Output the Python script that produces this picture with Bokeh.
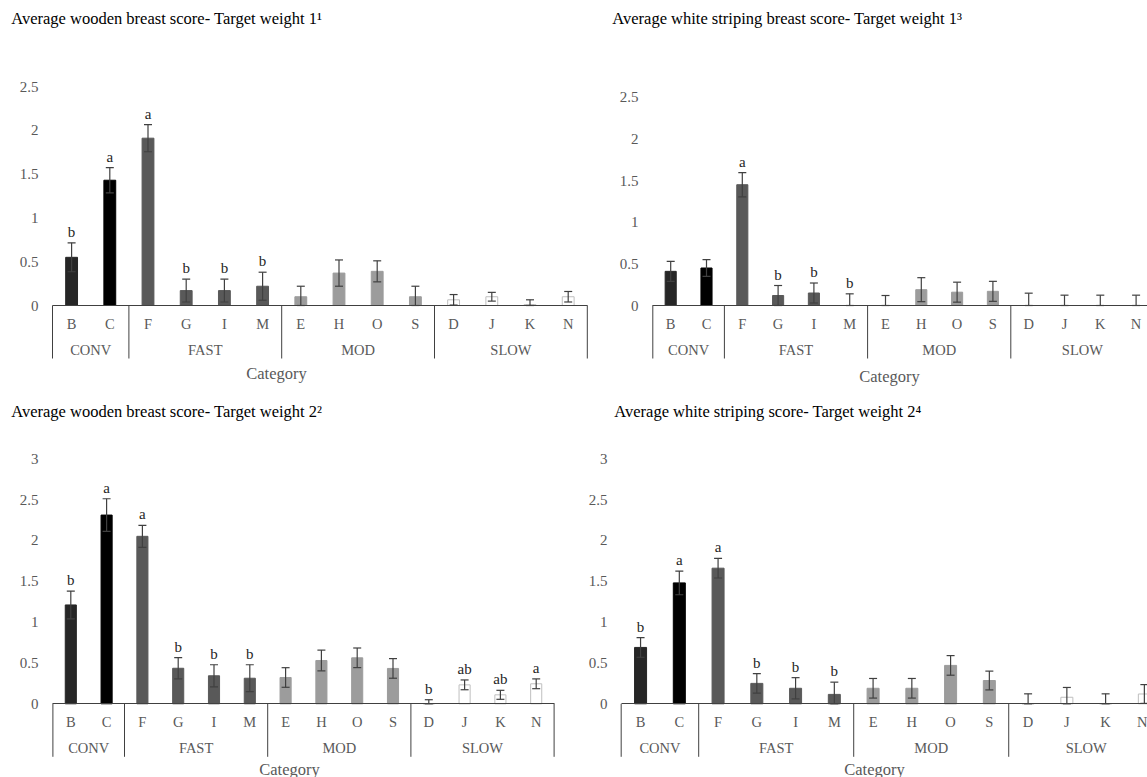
from bokeh.plotting import figure
from bokeh.models import (Range1d, LinearAxis, FixedTicker, ColumnDataSource, Whisker,
                          TeeHead, NumeralTickFormatter)
from bokeh.layouts import column, row
from bokeh.embed import file_html
from bokeh.resources import INLINE
from bokeh.core.properties import value

# ---------------- data ----------------
categories = ["B", "C", "F", "G", "I", "M", "E", "H", "O", "S", "D", "J", "K", "N"]
groups = ["CONV", "CONV", "FAST", "FAST", "FAST", "FAST",
          "MOD", "MOD", "MOD", "MOD", "SLOW", "SLOW", "SLOW", "SLOW"]

wb1_title = "Average wooden breast score- Target weight 1\u00b9"
wb1_mean = [0.55, 1.43, 1.91, 0.17, 0.17, 0.22, 0.10, 0.37, 0.39, 0.10, 0.065, 0.10, 0.01, 0.10]
wb1_err = [0.165, 0.145, 0.155, 0.13, 0.13, 0.16, 0.12, 0.15, 0.12, 0.12, 0.06, 0.05, 0.055, 0.06]
wb1_letters = ["b", "a", "a", "b", "b", "b", "", "", "", "", "", "", "", ""]

ws1_title = "Average white striping breast score- Target weight 1\u00b3"
ws1_mean = [0.41, 0.45, 1.45, 0.12, 0.15, 0.0, 0.0, 0.19, 0.16, 0.17, 0.0, 0.0, 0.0, 0.0]
ws1_err = [0.12, 0.10, 0.145, 0.12, 0.12, 0.14, 0.12, 0.144, 0.12, 0.12, 0.148, 0.124, 0.124, 0.124]
ws1_letters = ["", "", "a", "b", "b", "b", "", "", "", "", "", "", "", ""]

wb2_title = "Average wooden breast score- Target weight 2\u00b2"
wb2_mean = [1.21, 2.31, 2.05, 0.435, 0.343, 0.313, 0.322, 0.53, 0.563, 0.433, 0.0, 0.232, 0.11, 0.245]
wb2_err = [0.17, 0.20, 0.135, 0.13, 0.135, 0.165, 0.12, 0.127, 0.12, 0.12, 0.05, 0.06, 0.055, 0.06]
wb2_letters = ["b", "a", "a", "b", "b", "b", "", "", "", "", "b", "ab", "ab", "a"]

ws2_title = "Average white striping score- Target weight 2\u2074"
ws2_mean = [0.69, 1.48, 1.66, 0.25, 0.19, 0.115, 0.19, 0.19, 0.47, 0.285, 0.0, 0.08, 0.0, 0.12]
ws2_err = [0.12, 0.145, 0.12, 0.12, 0.13, 0.15, 0.12, 0.12, 0.12, 0.115, 0.122, 0.12, 0.122, 0.115]
ws2_letters = ["b", "a", "a", "b", "b", "b", "", "", "", "", "", "", "", ""]

yticks_tw1 = [0, 0.5, 1, 1.5, 2, 2.5]
yticks_tw2 = [0, 0.5, 1, 1.5, 2, 2.5, 3]

# ---------------- styles ----------------
FONT = "Liberation Serif"
GREY_TXT = "#595959"
BAR_FILL = {"B": "#262626", "C": "#000000"}
GROUP_FILL = {"CONV": "#262626", "FAST": "#595959", "MOD": "#9c9c9c", "SLOW": "#ffffff"}
GROUP_LINE = {"CONV": None, "FAST": None, "MOD": None, "SLOW": "#bfbfbf"}


def make_panel(title, means, errs, letters, yticks, g):
    n = len(categories)
    centers = [i + 0.5 for i in range(n)]
    # group spans from the group list
    bnds, gnames, gcenters = [0], [], []
    start = 0
    for i in range(1, n + 1):
        if i == n or groups[i] != groups[start]:
            gnames.append(groups[start])
            gcenters.append((start + i) / 2)
            bnds.append(i)
            start = i

    L = int(round(g["x0"] - 4 - g["left"]))
    frame_left = g["left"] + L
    xs = (frame_left - g["x0"]) / g["ux"]
    xe = (g["left"] + g["W"] - g["x0"]) / g["ux"]
    frame_top = g["top"] + g["T"]
    ye = (g["y0"] - frame_top) / g["uy"]
    ys = -(g["top"] + g["H"] - g["y0"]) / g["uy"]

    p = figure(width=g["W"], height=g["H"], x_range=Range1d(xs, xe), y_range=Range1d(ys, ye),
               output_backend="svg", toolbar_location=None, tools="", x_axis_location=None,
               min_border_left=L, min_border_right=0, min_border_top=g["T"], min_border_bottom=0)
    p.grid.visible = False
    p.outline_line_color = None
    p.background_fill_color = "white"
    p.border_fill_color = "white"

    # title
    p.title.text = title
    p.title.align = "left"
    p.title.offset = g["title_x"] - frame_left
    p.title.standoff = 3
    p.title.text_font = FONT
    p.title.text_font_size = "16.5px"
    p.title.text_font_style = "normal"
    p.title.text_color = "#000000"

    # y axis
    ya = p.yaxis[0]
    ya.ticker = FixedTicker(ticks=yticks)
    ya.formatter = NumeralTickFormatter(format="0.[0]")
    ya.axis_line_color = None
    ya.major_tick_line_color = None
    ya.minor_tick_line_color = None
    ya.major_tick_out = 0
    ya.major_label_standoff = 10
    ya.major_label_text_font = FONT
    ya.major_label_text_font_size = "15px"
    ya.major_label_text_color = GREY_TXT

    # bars
    fills = [BAR_FILL.get(c, GROUP_FILL[gr]) for c, gr in zip(categories, groups)]
    lines = [GROUP_LINE[gr] or f for gr, f in zip(groups, fills)]
    src = ColumnDataSource(dict(
        x=centers, top=means, fill=fills, line=lines,
        upper=[m + e for m, e in zip(means, errs)],
        lower=[max(m - e, 0) for m, e in zip(means, errs)],
        letter=letters))
    p.vbar(x="x", top="top", width=0.31, source=src, fill_color="fill", line_color="line",
           line_width=1)

    wh = Whisker(source=src, base="x", upper="upper", lower="lower", dimension="height",
                 line_color="#404040", line_width=1.2, level="annotation",
                 upper_head=TeeHead(size=8, line_color="#404040", line_width=1.2),
                 lower_head=TeeHead(size=8, line_color="#404040", line_width=1.2))
    p.add_layout(wh)

    p.text(x="x", y="upper", text="letter", source=src, text_align="center",
           text_baseline="bottom", y_offset=-3, text_font=value(FONT),
           text_font_size="15px", text_color="#262626")

    # group separators
    depth = -53 / g["uy"]
    p.segment(x0=bnds, y0=[0] * len(bnds), x1=bnds, y1=[depth] * len(bnds),
              line_color="#404040", line_width=1)

    # category axis
    ax = LinearAxis(fixed_location=0, ticker=FixedTicker(ticks=centers),
                    major_label_overrides={c: cat for c, cat in zip(centers, categories)},
                    bounds=(bnds[0], bnds[-1]))
    ax.axis_line_color = "#404040"
    ax.major_tick_line_color = None
    ax.minor_tick_line_color = None
    ax.major_tick_out = 0
    ax.major_tick_in = 0
    ax.major_label_standoff = 10
    ax.major_label_text_font = FONT
    ax.major_label_text_font_size = "14.5px"
    ax.major_label_text_color = GREY_TXT
    p.add_layout(ax, "below")

    # group axis
    gax = LinearAxis(fixed_location=0, ticker=FixedTicker(ticks=gcenters),
                     major_label_overrides={c: nm for c, nm in zip(gcenters, gnames)},
                     bounds=(bnds[0], bnds[-1]))
    gax.axis_line_color = None
    gax.major_tick_line_color = None
    gax.minor_tick_line_color = None
    gax.major_tick_out = 0
    gax.major_tick_in = 0
    gax.major_label_standoff = 36
    gax.major_label_text_font = FONT
    gax.major_label_text_font_size = "14.5px"
    gax.major_label_text_color = GREY_TXT
    p.add_layout(gax, "below")

    # axis title
    cx = (g["label_x"] - g["x0"]) / g["ux"]
    lax = LinearAxis(fixed_location=0, ticker=FixedTicker(ticks=[]), bounds=(cx - 1, cx + 1),
                     axis_label="Category")
    lax.axis_line_color = None
    lax.major_tick_line_color = None
    lax.minor_tick_line_color = None
    lax.major_tick_out = 0
    lax.major_tick_in = 0
    lax.axis_label_standoff = g["cat_off"] - 10
    lax.axis_label_text_font = FONT
    lax.axis_label_text_font_size = "16.5px"
    lax.axis_label_text_font_style = "normal"
    lax.axis_label_text_color = GREY_TXT
    p.add_layout(lax, "below")
    return p


# page geometry (pixels): the layout starts at the page's top-left corner
geo1 = dict(left=0, top=0, W=590, H=395, x0=52, ux=38.2, y0=305, uy=87.6, T=29,
            title_x=10.7, label_x=276, cat_off=68)
geo2 = dict(left=590, top=0, W=557, H=395, x0=652.3, ux=35.8, y0=305, uy=83.3, T=29,
            title_x=611.8, label_x=889, cat_off=71)
geo3 = dict(left=0, top=395, W=585, H=382, x0=52.4, ux=35.8, y0=703.3, uy=81.7, T=27,
            title_x=10.7, label_x=289, cat_off=66)
geo4 = dict(left=585, top=395, W=562, H=382, x0=618.7, ux=38.9, y0=703.3, uy=81.7, T=27,
            title_x=611.8, label_x=873, cat_off=66)

p1 = make_panel(wb1_title, wb1_mean, wb1_err, wb1_letters, yticks_tw1, geo1)
p2 = make_panel(ws1_title, ws1_mean, ws1_err, ws1_letters, yticks_tw1, geo2)
p3 = make_panel(wb2_title, wb2_mean, wb2_err, wb2_letters, yticks_tw2, geo3)
p4 = make_panel(ws2_title, ws2_mean, ws2_err, ws2_letters, yticks_tw2, geo4)

layout = column(row(p1, p2), row(p3, p4))
open("out.html", "w").write(file_html(layout, INLINE))
